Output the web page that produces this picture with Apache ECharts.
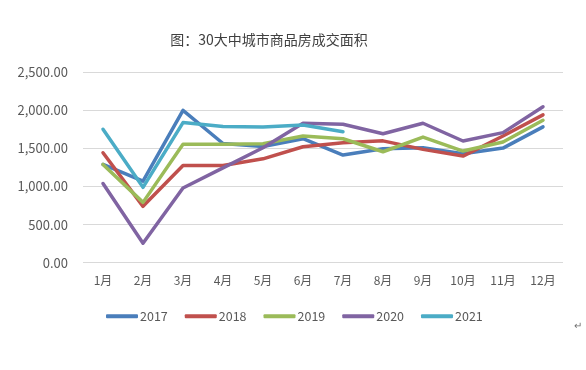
<!DOCTYPE html>
<html>
<head>
<meta charset="utf-8">
<script src="https://cdn.jsdelivr.net/npm/echarts@6/dist/echarts.min.js"></script>
<style>html,body{margin:0;padding:0;background:#fff;}#c{width:586px;height:370px;}</style>
</head>
<body>
<div id="c"></div>
<script>
var titleText = '图：30大中城市商品房成交面积';
var categories = ['1月','2月','3月','4月','5月','6月','7月','8月','9月','10月','11月','12月'];
var yTicks = [0, 500, 1000, 1500, 2000, 2500];
var s2017 = [1290, 1070, 2000, 1565, 1525, 1628, 1413, 1496, 1510, 1430, 1505, 1783];
var s2018 = [1444, 740, 1276, 1276, 1364, 1523, 1576, 1600, 1488, 1400, 1664, 1941];
var s2019 = [1290, 792, 1554, 1554, 1562, 1664, 1628, 1457, 1650, 1466, 1585, 1870];
var s2020 = [1039, 255, 981, 1245, 1510, 1831, 1818, 1694, 1831, 1598, 1708, 2047];
var s2021 = [1752, 990, 1840, 1787, 1783, 1809, 1720];
var seriesNames = ['2017','2018','2019','2020','2021'];
var seriesData = [s2017, s2018, s2019, s2020, s2021];
var colors = ['#4A7EBB', '#C0504D', '#9BBB59', '#8064A2', '#4BACC6'];

var chart = echarts.init(document.getElementById('c'), null, {renderer: 'canvas'});
var font = '"Noto Sans CJK SC", "Liberation Sans", sans-serif';
chart.setOption({
  animation: false,
  backgroundColor: '#fff',
  color: colors,
  title: {
    text: titleText,
    left: 264, top: 28, textAlign: 'center',
    textStyle: {fontFamily: font, fontSize: 14, fontWeight: 'normal', color: '#404040'}
  },
  grid: {left: 83, right: 23, top: 72.3, bottom: 107.3, containLabel: false},
  legend: {
    data: seriesNames,
    left: 101, top: 305,
    itemWidth: 32, itemHeight: 4, itemGap: 17,
    icon: 'roundRect',
    textStyle: {fontFamily: font, fontSize: 12.5, color: '#595959', padding: [0,0,0,-3]}
  },
  xAxis: {
    type: 'category',
    data: categories,
    boundaryGap: true,
    axisLine: {show: false},
    axisTick: {show: false},
    axisLabel: {fontFamily: font, fontSize: 12, color: '#595959', margin: 12}
  },
  yAxis: {
    type: 'value',
    min: yTicks[0], max: yTicks[yTicks.length-1], interval: 500,
    axisLine: {show: false},
    axisTick: {show: false},
    splitLine: {lineStyle: {color: '#d9d9d9', width: 1}},
    axisLabel: {
      fontFamily: font, fontSize: 13, color: '#595959', margin: 15,
      formatter: function (v) {
        return v.toLocaleString('en-US', {minimumFractionDigits: 2, maximumFractionDigits: 2});
      }
    }
  },
  series: seriesData.map(function (d, i) {
    return {
      name: seriesNames[i], type: 'line', data: d,
      symbol: 'none', lineStyle: {width: 3.5, color: colors[i], cap: 'round', join: 'round'},
      itemStyle: {color: colors[i]}
    };
  }),
  graphic: [{
    type: 'text', left: 574, top: 320,
    style: {text: '↵', fontSize: 10, fill: '#707070', fontFamily: font}
  }]
});
</script>
</body>
</html>
